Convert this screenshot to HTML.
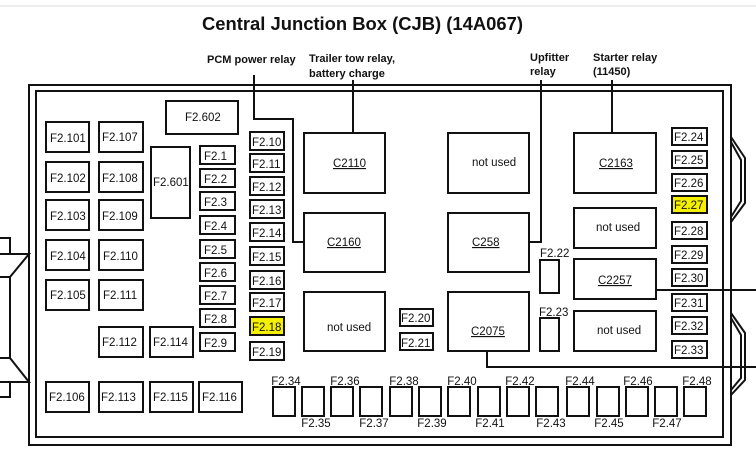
<!DOCTYPE html>
<html><head><meta charset="utf-8"><style>
html,body{margin:0;padding:0;background:#fff;}
svg{display:block;}
text{font-family:"Liberation Sans",Arial,sans-serif;fill:#111;}
.f{font-size:11.5px;}
.b{font-weight:bold;font-size:11px;}
</style></head><body>
<svg width="756" height="453" viewBox="0 0 756 453" xmlns="http://www.w3.org/2000/svg">
<rect width="756" height="453" fill="#fff"/>
<line x1="0" y1="6" x2="756" y2="6" stroke="#ddd" stroke-width="1"/>
<text x="202" y="30" font-size="18.5" font-weight="bold" textLength="321" lengthAdjust="spacingAndGlyphs">Central Junction Box (CJB) (14A067)</text>
<text class="b" x="207" y="63">PCM power relay</text>
<text class="b" x="309" y="62">Trailer tow relay,</text>
<text class="b" x="309" y="77">battery charge</text>
<text class="b" x="530" y="61">Upfitter</text>
<text class="b" x="530" y="75">relay</text>
<text class="b" x="593" y="61">Starter relay</text>
<text class="b" x="593" y="75">(11450)</text>
<g fill="none" stroke="#111" stroke-width="2">
<rect x="29" y="85" width="702" height="360"/>
<rect x="36" y="91" width="687" height="346"/>
<!-- left connector -->
<polyline points="0,238 10,238 10,254"/>
<polyline points="0,254 29,254 10,277 10,358 29,382 0,382"/>
<line x1="0" y1="277" x2="10" y2="277"/>
<line x1="0" y1="358" x2="10" y2="358"/>
<polyline points="0,397 10,397 10,382"/>
<!-- right connectors -->
<polyline points="731,137 745,158 745,203 731,222"/>
<polyline points="731,142 741,160 741,201 731,217"/>
<polyline points="731,313 745,333 745,380 731,395"/>
<polyline points="731,318 741,335 741,378 731,390"/>
<!-- leader lines -->
<polyline points="254,75 254,119 293,119 293,242 304,242"/>
<line x1="353" y1="80" x2="353" y2="133"/>
<polyline points="541,80 541,242 529,242"/>
<line x1="612" y1="80" x2="612" y2="133"/>
<line x1="656" y1="290" x2="756" y2="290"/>
<polyline points="487,351 487,367 756,367"/>
</g>
<g fill="#fff" stroke="#111" stroke-width="2">
<!-- left big fuses -->
<rect x="46" y="122" width="43" height="30"/><rect x="99" y="122" width="44" height="30"/>
<rect x="46" y="162" width="43" height="30"/><rect x="99" y="162" width="44" height="30"/>
<rect x="46" y="200" width="43" height="30"/><rect x="99" y="200" width="44" height="30"/>
<rect x="46" y="240" width="43" height="30"/><rect x="99" y="240" width="44" height="30"/>
<rect x="46" y="280" width="43" height="30"/><rect x="99" y="280" width="44" height="30"/>
<rect x="99" y="327" width="44" height="30"/><rect x="150" y="327" width="43" height="30"/>
<rect x="46" y="382" width="43" height="30"/><rect x="99" y="382" width="44" height="30"/>
<rect x="150" y="382" width="43" height="30"/><rect x="199" y="382" width="43" height="30"/>
<rect x="151" y="147" width="39" height="71"/>
<rect x="166" y="101" width="72" height="33"/>
<!-- relays -->
<rect x="304" y="133" width="81" height="60"/><rect x="304" y="213" width="81" height="59"/><rect x="304" y="292" width="81" height="59"/>
<rect x="448" y="133" width="81" height="60"/><rect x="448" y="213" width="81" height="59"/><rect x="448" y="292" width="81" height="59"/>
<rect x="574" y="133" width="82" height="60"/><rect x="574" y="208" width="82" height="40"/><rect x="574" y="259" width="82" height="40"/><rect x="574" y="311" width="82" height="40"/>
<rect x="400" y="309" width="33" height="17"/><rect x="400" y="333" width="33" height="17"/>
<rect x="540" y="260" width="19" height="33"/><rect x="540" y="318" width="19" height="33"/>
</g>
<g class="f">
<text x="50" y="142">F2.101</text><text x="102" y="141">F2.107</text>
<text x="50" y="182">F2.102</text><text x="102" y="182">F2.108</text>
<text x="50" y="220">F2.103</text><text x="102" y="220">F2.109</text>
<text x="50" y="260">F2.104</text><text x="103" y="260">F2.110</text>
<text x="50" y="299">F2.105</text><text x="103" y="299">F2.111</text>
<text x="102" y="346">F2.112</text><text x="153" y="346">F2.114</text>
<text x="49" y="401">F2.106</text><text x="101" y="401">F2.113</text>
<text x="153" y="401">F2.115</text><text x="202" y="401">F2.116</text>
<text x="153" y="186">F2.601</text>
<text x="185" y="121">F2.602</text>
<text x="333" y="167" text-decoration="underline">C2110</text>
<text x="327" y="246" text-decoration="underline">C2160</text>
<text x="327" y="331">not used</text>
<text x="472" y="166">not used</text>
<text x="472" y="246" text-decoration="underline">C258</text>
<text x="471" y="335" text-decoration="underline">C2075</text>
<text x="599" y="167" text-decoration="underline">C2163</text>
<text x="596" y="231">not used</text>
<text x="598" y="284" text-decoration="underline">C2257</text>
<text x="597" y="334">not used</text>
<text x="401" y="322">F2.20</text><text x="401" y="347">F2.21</text>
<text x="540" y="257">F2.22</text><text x="539" y="316">F2.23</text>
</g>
<!-- fuse columns -->
<g id="cols" fill="#fff" stroke="#111" stroke-width="2">
<rect x="200" y="146" width="35" height="18"/><rect x="200" y="169" width="35" height="18"/><rect x="200" y="192" width="35" height="18"/><rect x="200" y="216" width="35" height="18"/><rect x="200" y="240" width="35" height="18"/><rect x="200" y="263" width="35" height="18"/><rect x="200" y="286" width="35" height="18"/><rect x="200" y="309" width="35" height="18"/><rect x="200" y="333" width="35" height="18"/>
<rect x="250" y="132" width="34" height="18"/><rect x="250" y="154" width="34" height="18"/><rect x="250" y="177" width="34" height="18"/><rect x="250" y="200" width="34" height="18"/><rect x="250" y="223" width="34" height="18"/><rect x="250" y="247" width="34" height="18"/><rect x="250" y="271" width="34" height="18"/><rect x="250" y="293" width="34" height="18"/><rect x="250" y="317" width="34" height="18" fill="#f5f000"/><rect x="250" y="342" width="34" height="18"/>
<rect x="672" y="128" width="35" height="17"/><rect x="672" y="151" width="35" height="17"/><rect x="672" y="174" width="35" height="17"/><rect x="672" y="196" width="35" height="17" fill="#f5f000"/><rect x="672" y="222" width="35" height="17"/><rect x="672" y="246" width="35" height="17"/><rect x="672" y="269" width="35" height="17"/><rect x="672" y="294" width="35" height="17"/><rect x="672" y="317" width="35" height="17"/><rect x="672" y="341" width="35" height="17"/>
</g>
<g class="f">
<text x="204" y="160">F2.1</text><text x="204" y="183">F2.2</text><text x="204" y="206">F2.3</text><text x="204" y="230">F2.4</text><text x="204" y="254">F2.5</text><text x="204" y="277">F2.6</text><text x="204" y="300">F2.7</text><text x="204" y="323">F2.8</text><text x="204" y="347">F2.9</text>
<text x="252" y="146">F2.10</text><text x="252" y="168">F2.11</text><text x="252" y="191">F2.12</text><text x="252" y="214">F2.13</text><text x="252" y="237">F2.14</text><text x="252" y="261">F2.15</text><text x="252" y="285">F2.16</text><text x="252" y="307">F2.17</text><text x="252" y="331">F2.18</text><text x="252" y="356">F2.19</text>
<text x="674" y="141">F2.24</text><text x="674" y="164">F2.25</text><text x="674" y="187">F2.26</text><text x="674" y="209">F2.27</text><text x="674" y="235">F2.28</text><text x="674" y="259">F2.29</text><text x="674" y="282">F2.30</text><text x="674" y="307">F2.31</text><text x="674" y="330">F2.32</text><text x="674" y="354">F2.33</text>
</g>
<!-- bottom row -->
<g fill="#fff" stroke="#111" stroke-width="2">
<rect x="273" y="387" width="22" height="29"/><rect x="302" y="387" width="22" height="29"/><rect x="331" y="387" width="22" height="29"/><rect x="360" y="387" width="22" height="29"/><rect x="390" y="387" width="22" height="29"/><rect x="419" y="387" width="22" height="29"/><rect x="448" y="387" width="22" height="29"/><rect x="478" y="387" width="22" height="29"/><rect x="507" y="387" width="22" height="29"/><rect x="536" y="387" width="22" height="29"/><rect x="567" y="387" width="22" height="29"/><rect x="597" y="387" width="22" height="29"/><rect x="626" y="387" width="22" height="29"/><rect x="655" y="387" width="22" height="29"/><rect x="684" y="387" width="22" height="29"/>
</g>
<g class="f" text-anchor="middle">
<text x="286" y="385">F2.34</text><text x="345" y="385">F2.36</text><text x="404" y="385">F2.38</text><text x="462" y="385">F2.40</text><text x="520" y="385">F2.42</text><text x="580" y="385">F2.44</text><text x="638" y="385">F2.46</text><text x="697" y="385">F2.48</text>
<text x="316" y="427">F2.35</text><text x="374" y="427">F2.37</text><text x="432" y="427">F2.39</text><text x="490" y="427">F2.41</text><text x="551" y="427">F2.43</text><text x="609" y="427">F2.45</text><text x="667" y="427">F2.47</text>
</g>
</svg>
</body></html>
